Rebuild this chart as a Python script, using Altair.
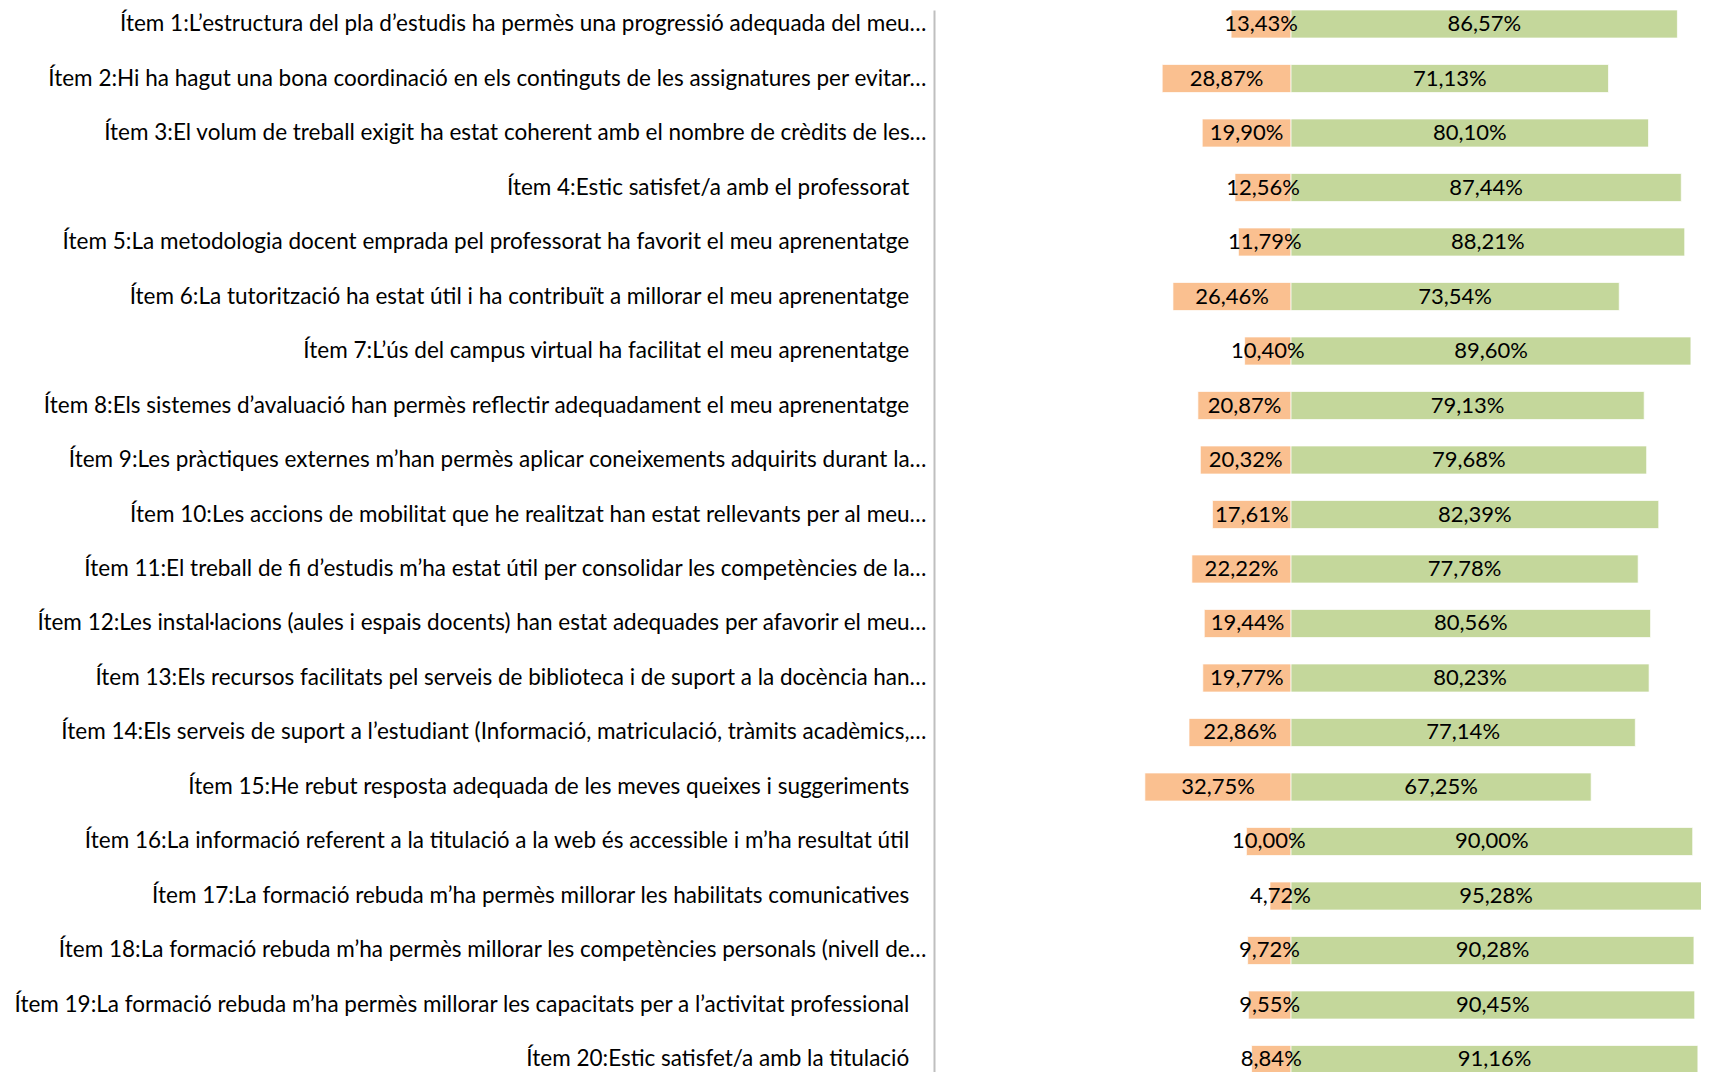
import altair as alt
import pandas as pd

items = [
    "Ítem 1:L’estructura del pla d’estudis ha permès una progressió adequada del meu…",
    "Ítem 2:Hi ha hagut una bona coordinació en els continguts de les assignatures per evitar…",
    "Ítem 3:El volum de treball exigit ha estat coherent amb el nombre de crèdits de les…",
    "Ítem 4:Estic satisfet/a amb el professorat",
    "Ítem 5:La metodologia docent emprada pel professorat ha favorit el meu aprenentatge",
    "Ítem 6:La tutorització ha estat útil i ha contribuït a millorar el meu aprenentatge",
    "Ítem 7:L’ús del campus virtual ha facilitat el meu aprenentatge",
    "Ítem 8:Els sistemes d’avaluació han permès reflectir adequadament el meu aprenentatge",
    "Ítem 9:Les pràctiques externes m’han permès aplicar coneixements adquirits durant la…",
    "Ítem 10:Les accions de mobilitat que he realitzat han estat rellevants per al meu…",
    "Ítem 11:El treball de fi d’estudis m’ha estat útil per consolidar les competències de la…",
    "Ítem 12:Les instal·lacions (aules i espais docents) han estat adequades per afavorir el meu…",
    "Ítem 13:Els recursos facilitats pel serveis de biblioteca i de suport a la docència han…",
    "Ítem 14:Els serveis de suport a l’estudiant (Informació, matriculació, tràmits acadèmics,…",
    "Ítem 15:He rebut resposta adequada de les meves queixes i suggeriments",
    "Ítem 16:La informació referent a la titulació a la web és accessible i m’ha resultat útil",
    "Ítem 17:La formació rebuda m’ha permès millorar les habilitats comunicatives",
    "Ítem 18:La formació rebuda m’ha permès millorar les competències personals (nivell de…",
    "Ítem 19:La formació rebuda m’ha permès millorar les capacitats per a l’activitat professional",
    "Ítem 20:Estic satisfet/a amb la titulació",
]

negative = [13.43, 28.87, 19.90, 12.56, 11.79, 26.46, 10.40, 20.87, 20.32, 17.61,
            22.22, 19.44, 19.77, 22.86, 32.75, 10.00, 4.72, 9.72, 9.55, 8.84]
positive = [86.57, 71.13, 80.10, 87.44, 88.21, 73.54, 89.60, 79.13, 79.68, 82.39,
            77.78, 80.56, 80.23, 77.14, 67.25, 90.00, 95.28, 90.28, 90.45, 91.16]

X_MIN, X_MAX = -80, 91.86

# Labels without ellipsis keep a trailing gap, as in the original
labels = [t if t.endswith("…") else t + "\u00a0\u00a0\u00a0\u200b" for t in items]


def fmt(v):
    return f"{v:.2f}".replace(".", ",") + "%"


rows = []
for lab, n, p in zip(labels, negative, positive):
    rows.append({"item": lab, "group": "neg", "start": -n, "end": 0.0,
                 "mid": -n / 2, "label": fmt(n)})
    rows.append({"item": lab, "group": "pos", "start": 0.0, "end": p,
                 "mid": min(p, X_MAX) / 2, "label": fmt(p)})
df = pd.DataFrame(rows)

xscale = alt.Scale(domain=[X_MIN, X_MAX], nice=False, zero=False)
yenc = alt.Y(
    "item:N",
    sort=labels,
    scale=alt.Scale(range=[2, 1065.5], paddingInner=0.4862, paddingOuter=0),
    axis=alt.Axis(
        title=None,
        labelFont="Lato",
        labelFontSize=22.5,
        labelColor="#000000",
        labelPadding=8,
        labelLimit=0,
        ticks=False,
        domainColor="#BFBFBF",
        domainWidth=2,
        grid=False,
    ),
)

bars = alt.Chart(df).mark_bar(clip=True, stroke="white", strokeWidth=1, strokeOpacity=0.7).encode(
    x=alt.X("start:Q", scale=xscale, axis=None),
    x2="end:Q",
    y=yenc,
    color=alt.Color("group:N", scale=alt.Scale(domain=["neg", "pos"], range=["#FAC090", "#C4D79B"]), legend=None),
)

texts = alt.Chart(df).mark_text(clip=True, font="Lato", fontSize=22, color="#000000", baseline="middle", align="center").encode(
    x=alt.X("mid:Q", scale=xscale, axis=None),
    y=alt.Y("item:N", sort=labels),
    text="label:N",
)

chart = alt.layer(bars, texts).properties(
    width=767,
    height=1064,
    padding={"left": 926, "top": 0, "right": 0, "bottom": 0},
    autosize=alt.AutoSizeParams(type="none"),
).configure_view(stroke=None)

chart.save("out.html", embed_options={"renderer": "svg", "actions": False})
